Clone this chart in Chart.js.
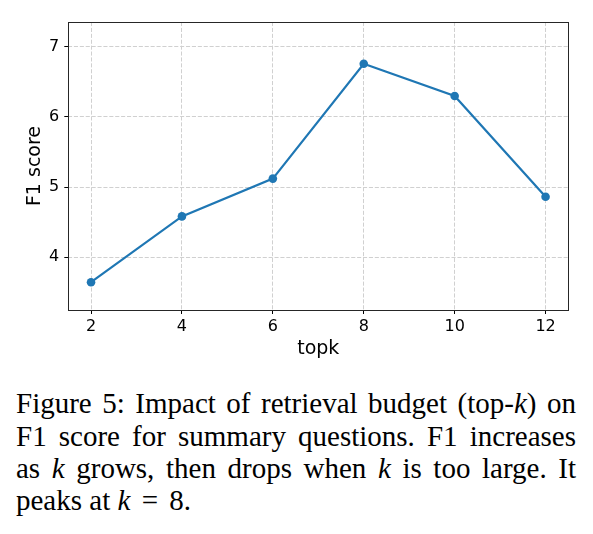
<!DOCTYPE html>
<html>
<head>
<meta charset="utf-8">
<script src="https://cdn.jsdelivr.net/npm/chart.js@4/dist/chart.umd.min.js"></script>
<style>
  html, body { margin: 0; padding: 0; background: #fff; }
  body { width: 593px; height: 534px; position: relative; overflow: hidden; }
  #wrap { position: absolute; left: 0; top: 0; width: 593px; height: 370px; }
  #caption {
    position: absolute; left: 16px; top: 387.4px; width: 560px;
    font-family: "Liberation Serif", "Times New Roman", serif;
    font-size: 29px; line-height: 32.3px; color: #000;
  }
  #caption div { text-align: justify; text-align-last: justify; white-space: nowrap; }
  #caption div.last { text-align-last: left; }
  #caption .eq { margin: 0 0.14em; }
</style>
</head>
<body>
<div id="wrap"><canvas id="c" width="593" height="370"></canvas></div>
<div id="caption">
  <div>Figure 5: Impact of retrieval budget (top-<i>k</i>) on</div>
  <div>F1 score for summary questions. F1 increases</div>
  <div>as <i>k</i> grows, then drops when <i>k</i> is too large. It</div>
  <div class="last">peaks at <i>k</i> <span class="eq">=</span> 8.</div>
</div>
<script>
const topk = [2, 4, 6, 8, 10, 12];
const f1Score = [3.64, 4.58, 5.12, 6.76, 6.30, 4.86];
const xTicks = [2, 4, 6, 8, 10, 12];
const yTicks = [4, 5, 6, 7];

const boxPlugin = {
  id: 'box',
  afterDraw(chart) {
    const a = chart.chartArea, ctx = chart.ctx;
    ctx.save();
    ctx.strokeStyle = '#262626';
    ctx.lineWidth = 1;
    ctx.strokeRect(Math.round(a.left) + 0.5, Math.round(a.top) + 0.5,
      Math.round(a.right) - Math.round(a.left), Math.round(a.bottom) - Math.round(a.top));
    ctx.restore();
  }
};

const tickFont = { family: 'DejaVu Sans', size: 16 };
const titleFont = { family: 'DejaVu Sans', size: 19 };

new Chart(document.getElementById('c'), {
  type: 'line',
  data: {
    datasets: [{
      data: topk.map((x, i) => ({ x: x, y: f1Score[i] })),
      borderColor: '#1f77b4',
      backgroundColor: '#1f77b4',
      borderWidth: 2.2,
      pointRadius: 4.3,
      pointBorderWidth: 0,
      pointBackgroundColor: '#1f77b4',
      tension: 0,
      fill: false
    }]
  },
  options: {
    responsive: false,
    animation: false,
    devicePixelRatio: 1,
    layout: { padding: { top: 22, right: 24.7, left: 0, bottom: 0 } },
    plugins: { legend: { display: false }, tooltip: { enabled: false } },
    scales: {
      x: {
        type: 'linear',
        min: 1.5, max: 12.5,
        afterBuildTicks: s => { s.ticks = xTicks.map(v => ({ value: v })); },
        afterFit: s => { s.height = 60; },
        ticks: { font: tickFont, color: '#000', padding: 3, maxRotation: 0, callback: v => String(v) },
        grid: { color: '#d0d0d0', lineWidth: 1, tickLength: 4, tickColor: '#000', tickWidth: 1 },
        border: { display: false, dash: [4.1, 1.8] },
        title: { display: true, text: 'topk', font: titleFont, color: '#000', padding: { top: 0, bottom: 9.5 } }
      },
      y: {
        type: 'linear',
        min: 3.243, max: 7.357,
        afterBuildTicks: s => { s.ticks = yTicks.map(v => ({ value: v })); },
        afterFit: s => { s.width = 68.3; },
        ticks: { font: tickFont, color: '#000', padding: 5, callback: v => String(v) },
        grid: { color: '#d0d0d0', lineWidth: 1, tickLength: 4, tickColor: '#000', tickWidth: 1 },
        border: { display: false, dash: [4.1, 1.8] },
        title: { display: true, text: 'F1 score', font: titleFont, color: '#000', padding: { top: 23.6, bottom: 0 } }
      }
    }
  },
  plugins: [boxPlugin]
});
</script>
</body>
</html>
